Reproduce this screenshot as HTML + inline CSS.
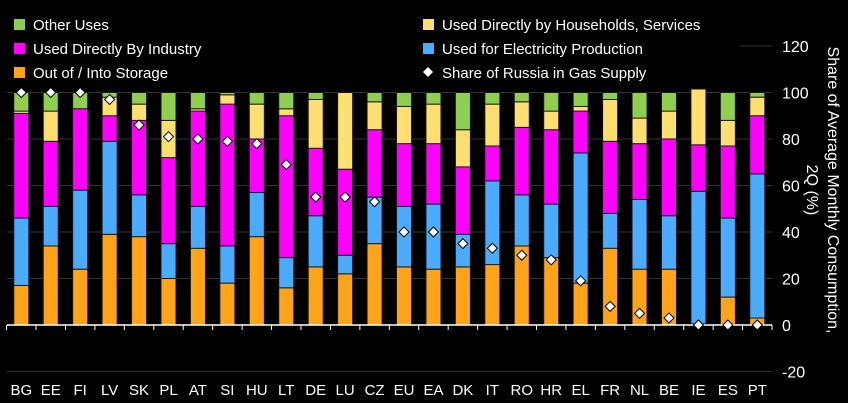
<!DOCTYPE html>
<html><head><meta charset="utf-8"><style>
html,body{margin:0;padding:0;background:#000;}
svg{display:block;font-family:"Liberation Sans",sans-serif;}
</style></head><body>
<svg id="chart" width="848" height="403" viewBox="0 0 848 403" xmlns="http://www.w3.org/2000/svg">
<g id="grid"></g>
<g id="legend"><rect x="5" y="10" width="735" height="76" fill="#000"/></g>
<g id="bars"></g>
<g id="axes"></g>
<g id="points"></g>
<text transform="translate(822,190) rotate(90)" text-anchor="middle" fill="#fff" font-size="16"><tspan x="0" dy="-6">Share of Average Monthly Consumption,</tspan><tspan x="0" dy="21">2Q (%)</tspan></text>
</svg>
<script>
const cats=["BG","EE","FI","LV","SK","PL","AT","SI","HU","LT","DE","LU","CZ","EU","EA","DK","IT","RO","HR","EL","FR","NL","BE","IE","ES","PT"];
const storage=[17,34,24,39,38,20,33,18,38,16,25,22,35,25,24,25,26,34,29,18,33,24,24,0.5,12,3];
const electricity=[29,17,34,40,18,15,18,16,19,13,22,8,20,26,28,14,36,22,23,56,15,30,23,57,34,62];
const industry=[45,28,35,11,32,37,41,61,23,61,29,37,29,27,26,29,15,29,32,18,31,24,33,20,31,25];
const households=[1,13,0,8,7,16,1,4,15,3,21,33,12,16,17,16,18,11,8,2,18,11,12,24,11,8];
const other=[8,8,7,2,5,12,7,1,5,7,3,0,4,6,5,16,5,4,8,6,3,11,8,0,12,2];
const russiaShare=[100,100,100,97,86,81,80,79,78,69,55,55,53,40,40,35,33,30,28,19,8,5,3,0,0,0];
const yTicks=[120,100,80,60,40,20,0,-20];
const colors=["#ffa31a","#4aabff","#ff00ff","#ffdf6f","#8fce4f"];
const NS="http://www.w3.org/2000/svg";
const y=v=>325-v*2.325;
const step=29.44;
const x=i=>21.3+i*step;
const bw=15;
function mk(tag,attrs,parent){const e=document.createElementNS(NS,tag);for(const k in attrs)e.setAttribute(k,attrs[k]);parent.appendChild(e);return e;}
const grid=document.getElementById('grid'),bars=document.getElementById('bars'),axes=document.getElementById('axes'),pts=document.getElementById('points'),leg=document.getElementById('legend');
yTicks.forEach(t=>{
 if(t!==0){const l=mk('line',{x1:7,x2:772,y1:y(t),y2:y(t),stroke:'#333','stroke-width':1},grid);
 
 }
 const tx=mk('text',{x:782,y:y(t)+6,'text-anchor':'start',fill:'#fff','font-size':16},axes);tx.textContent=t;
 
 
});
const series=[storage,electricity,industry,households,other];
cats.forEach((c,i)=>{
 let base=0;
 series.forEach((s,k)=>{
  const v=s[i]; if(v<=0)return;
  const r=mk('rect',{x:x(i)-bw/2,y:y(base+v),width:bw,height:v*2.325,fill:colors[k],stroke:'#1a1a1a','stroke-width':1},bars);
  
  
  base+=v;
 });
 const tl=mk('text',{x:x(i),y:395,'text-anchor':'middle',fill:'#fff','font-size':15},axes);tl.textContent=c;
 
 
 const d=mk('path',{d:`M${x(i)} ${y(russiaShare[i])-5}l5 5l-5 5l-5 -5z`,fill:'#fff',stroke:'#000','stroke-width':1},pts);
 
 
});
mk('line',{x1:7,x2:772,y1:y(0),y2:y(0),stroke:'#fff','stroke-width':1.5},axes);
for(let i=0;i<=cats.length;i++){mk('line',{x1:x(i)-step/2,x2:x(i)-step/2,y1:y(0),y2:y(0)+5,stroke:'#fff','stroke-width':1},axes);}
const legItems=[[4,"Other Uses",14,25],[2,"Used Directly By Industry",14,49],[0,"Out of / Into Storage",14,73],[3,"Used Directly by Households, Services",423,25],[1,"Used for Electricity Production",423,49]];
legItems.forEach(([k,n,lx,ly])=>{
 const r=mk('rect',{x:lx,y:ly-6,width:11,height:11,fill:colors[k]},leg);
 
 
 const t=mk('text',{x:lx+19,y:ly+5,fill:'#fff','font-size':15},leg);t.textContent=n;
 
 
});
const ld=mk('path',{d:'M428 67l5 5l-5 5l-5 -5z',fill:'#fff'},leg);


const lt=mk('text',{x:442,y:78,fill:'#fff','font-size':15},leg);lt.textContent="Share of Russia in Gas Supply";


</script>
</body></html>
